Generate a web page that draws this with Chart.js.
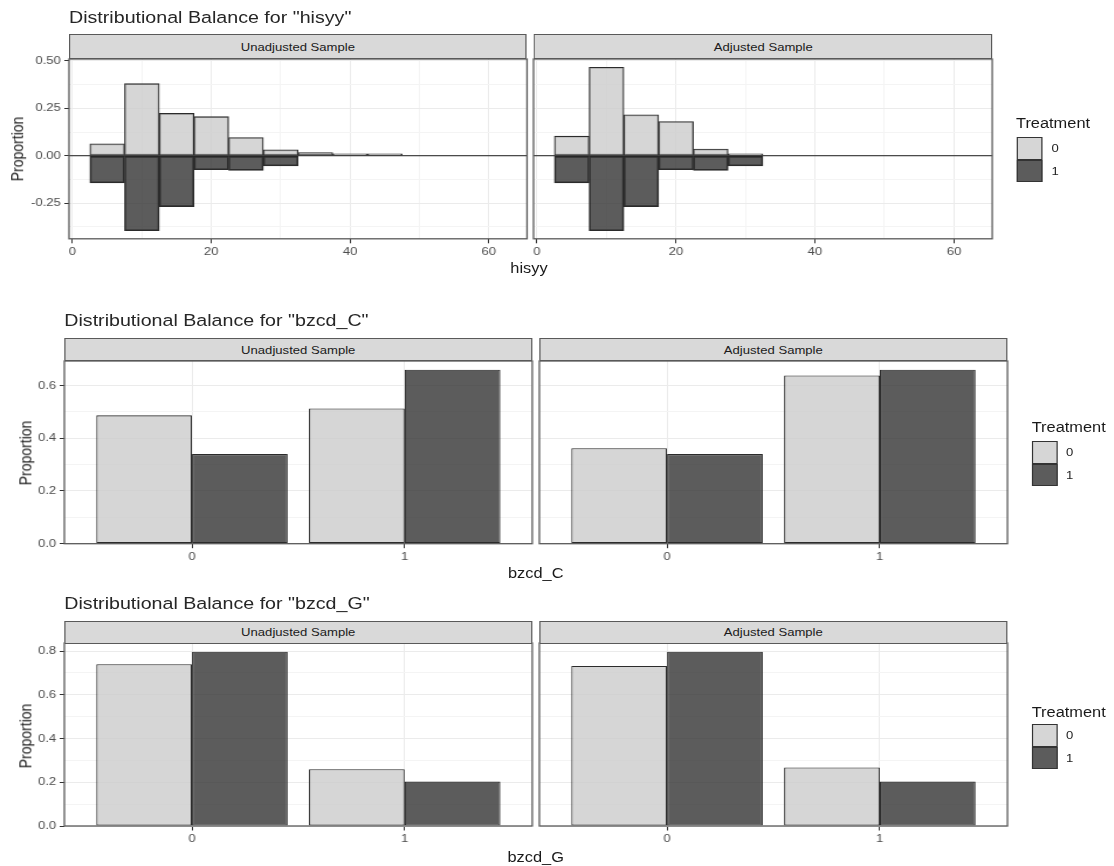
<!DOCTYPE html>
<html>
<head>
<meta charset="utf-8">
<title>Distributional Balance</title>
<script src="https://cdn.jsdelivr.net/npm/chart.js@4.4.1/dist/chart.umd.min.js"></script>
<style>
  html, body { margin: 0; padding: 0; background: #ffffff; }
  body { width: 1114px; height: 866px; overflow: hidden; position: relative; }
  #fig { position: absolute; left: 0; top: 0; height: 866px; transform-origin: 0 0;
         font-family: "Liberation Sans", Arial, Helvetica, sans-serif; }
  #fig canvas { position: absolute; }
  .txt { position: absolute; white-space: nowrap; line-height: 1; }
  .strip { position: absolute; box-sizing: border-box; background: #d9d9d9;
           border: 1.3px solid #595959; display: flex; align-items: center;
           justify-content: center; font-size: 11.2px; color: #1a1a1a; white-space: nowrap; }
  .key { position: absolute; box-sizing: border-box; border: 1.2px solid #333333; }
</style>
</head>
<body>
<div id="fig"></div>
<script>
// ---------------------------------------------------------------------------
// Data
// ---------------------------------------------------------------------------
const treatmentLevels = ['0', '1'];
const facetNames = ['Unadjusted Sample', 'Adjusted Sample'];

// hisyy histogram: bin centres (bin width 5) and proportion per bin
const hisyyBinCentres   = [5, 10, 15, 20, 25, 30, 35, 40, 45];
const hisyyUnadjusted0  = [0.063, 0.380, 0.223, 0.206, 0.096, 0.031, 0.017, 0.005, 0.004];
const hisyyUnadjusted1  = [0.143, 0.395, 0.269, 0.073, 0.077, 0.054, null, null, null];
const hisyyAdjusted0    = [0.103, 0.466, 0.216, 0.180, 0.035, 0.010, null, null, null];
const hisyyAdjusted1    = [0.143, 0.395, 0.269, 0.073, 0.077, 0.054, null, null, null];
const hisyyXTicks       = [0, 20, 40, 60];
const hisyyYTicks       = [-0.25, 0, 0.25, 0.5];

// binary covariates: proportion at each level
const binaryLevels      = [0, 1];
const bzcdCUnadjusted0  = [0.487, 0.513];
const bzcdCUnadjusted1  = [0.340, 0.660];
const bzcdCAdjusted0    = [0.362, 0.638];
const bzcdCAdjusted1    = [0.340, 0.660];
const bzcdCYTicks       = [0, 0.2, 0.4, 0.6];

const bzcdGUnadjusted0  = [0.740, 0.260];
const bzcdGUnadjusted1  = [0.797, 0.203];
const bzcdGAdjusted0    = [0.732, 0.268];
const bzcdGAdjusted1    = [0.797, 0.203];
const bzcdGYTicks       = [0, 0.2, 0.4, 0.6, 0.8];

// ---------------------------------------------------------------------------
// Styling
// ---------------------------------------------------------------------------
const FONT = '"Liberation Sans", Arial, Helvetica, sans-serif';
Chart.defaults.font.family = FONT;
const SX = 1.17;                       // horizontal stretch of the whole figure
const FILLS = ['rgba(204,204,204,0.8)', 'rgba(51,51,51,0.8)'];
const KEY_FILLS = ['#d6d6d6', '#5c5c5c'];
const EDGE = '#2b2b2b';
const TICK_TEXT = '#4d4d4d';

const fig = document.getElementById('fig');
fig.style.width = (1114 / SX) + 'px';
fig.style.transform = 'scaleX(' + SX + ')';
const X = px => px / SX;

// ---------------------------------------------------------------------------
// Figure layout (rows of facet pairs)
// ---------------------------------------------------------------------------
const rows = [
  {
    variable: 'hisyy', kind: 'hist',
    xValues: hisyyBinCentres,
    series: [[hisyyUnadjusted0, hisyyUnadjusted1], [hisyyAdjusted0, hisyyAdjusted1]],
    x: { min: -0.5, max: 65.5, step: 10, major: hisyyXTicks, digits: 0 },
    y: { min: -0.438, max: 0.51, step: 0.125, major: hisyyYTicks, digits: 2 },
    layout: {
      title: [69, 18.3], stripTop: 34.3, plotTop: 58.7, plotBottom: 238.5,
      panels: [[68.9, 526.9], [534, 992.7]],
      xTitle: [529, 267.5], yTitle: [17.5, 148.8],
      legend: { titleX: 1016, titleY: 123, keyX: 1017.3, keyW: 24.7,
                keyYs: [137.3, 159.7, 182], labelX: 1051.5, labelYs: [149, 171.5] }
    }
  },
  {
    variable: 'bzcd_C', kind: 'bar',
    xValues: binaryLevels,
    series: [[bzcdCUnadjusted0, bzcdCUnadjusted1], [bzcdCAdjusted0, bzcdCAdjusted1]],
    x: { min: -0.6, max: 1.6, step: 1, major: binaryLevels, digits: 0 },
    y: { min: 0, max: 0.693, step: 0.1, major: bzcdCYTicks, digits: 1 },
    layout: {
      title: [64.3, 321.3], stripTop: 338, plotTop: 360.7, plotBottom: 543.4,
      panels: [[64.3, 532.2], [539.3, 1007.4]],
      xTitle: [535.7, 572.5], yTitle: [25.8, 452.8],
      legend: { titleX: 1031.7, titleY: 427.3, keyX: 1031.7, keyW: 25.6,
                keyYs: [441, 463.5, 486], labelX: 1066, labelYs: [453.3, 476] }
    }
  },
  {
    variable: 'bzcd_G', kind: 'bar',
    xValues: binaryLevels,
    series: [[bzcdGUnadjusted0, bzcdGUnadjusted1], [bzcdGAdjusted0, bzcdGAdjusted1]],
    x: { min: -0.6, max: 1.6, step: 1, major: binaryLevels, digits: 0 },
    y: { min: 0, max: 0.837, step: 0.1, major: bzcdGYTicks, digits: 1 },
    layout: {
      title: [64.3, 604], stripTop: 620.5, plotTop: 643.3, plotBottom: 826.3,
      panels: [[64.3, 532.2], [539.3, 1007.4]],
      xTitle: [535.7, 857.3], yTitle: [25.8, 735.6],
      legend: { titleX: 1031.7, titleY: 711.7, keyX: 1031.7, keyW: 25.6,
                keyYs: [724.3, 746.7, 769], labelX: 1066, labelYs: [735.7, 759] }
    }
  }
];

// ---------------------------------------------------------------------------
// Helpers
// ---------------------------------------------------------------------------
function addText(str, x, y, size, color, mode) {
  const d = document.createElement('div');
  d.className = 'txt';
  d.textContent = str;
  d.style.left = X(x) + 'px';
  d.style.top = y + 'px';
  d.style.fontSize = size + 'px';
  d.style.color = color;
  if (mode === 'center') d.style.transform = 'translate(-50%, -50%)';
  else if (mode === 'vertical') d.style.transform = 'translate(-50%, -50%) rotate(-90deg)';
  else d.style.transform = 'translateY(-50%)';
  fig.appendChild(d);
  return d;
}

const isMajor = (list, v) => list.some(m => Math.abs(m - v) < 1e-9);

// Panel border and (for the mirrored histogram) the zero reference line
const panelDecor = {
  id: 'panelDecor',
  afterDatasetsDraw(chart, args, opts) {
    const { ctx, chartArea: a, scales } = chart;
    ctx.save();
    if (opts.zeroLine) {
      const y0 = scales.y.getPixelForValue(0);
      ctx.strokeStyle = '#1e1e1e';
      ctx.lineWidth = 1;
      ctx.beginPath();
      ctx.moveTo(a.left, y0);
      ctx.lineTo(a.right, y0);
      ctx.stroke();
    }
    ctx.strokeStyle = '#5a5a5a';
    ctx.lineWidth = 1.3;
    ctx.strokeRect(a.left, a.top, a.right - a.left, a.bottom - a.top);
    ctx.restore();
  }
};

function axisOptions(spec, axis, showLabels, fixedSize) {
  const o = {
    type: 'linear',
    min: spec.min,
    max: spec.max,
    offset: false,
    beginAtZero: false,
    border: { display: false },
    grid: {
      offset: false,
      drawTicks: showLabels,
      tickLength: axis === 'x' ? 4.5 : 4,
      tickWidth: 1,
      tickColor: ctx => (ctx.tick && isMajor(spec.major, ctx.tick.value)) ? '#333333' : 'rgba(0,0,0,0)',
      color: ctx => (ctx.tick && isMajor(spec.major, ctx.tick.value)) ? '#ebebeb' : '#f4f4f4',
      lineWidth: 1
    },
    ticks: {
      display: showLabels,
      stepSize: spec.step,
      includeBounds: false,
      autoSkip: false,
      maxRotation: 0,
      minRotation: 0,
      padding: axis === 'x' ? 2 : 3,
      color: TICK_TEXT,
      font: { family: FONT, size: 11.2 },
      callback: v => isMajor(spec.major, v) ? Number(v).toFixed(spec.digits) : ''
    },
    // fixed axis size; labels may overhang the plotting area freely
    afterFit: s => {
      if (axis === 'x') s.height = fixedSize; else s.width = fixedSize;
      s.paddingTop = 0; s.paddingBottom = 0; s.paddingLeft = 0; s.paddingRight = 0;
    }
  };
  return o;
}

function buildDatasets(row, pi) {
  return [0, 1].map(g => {
    const values = row.series[pi][g];
    const ds = {
      label: treatmentLevels[g],
      data: row.xValues.map((xv, i) => {
        const v = values[i];
        // treated group is mirrored below zero in the histogram
        const y = (v == null) ? null : (row.kind === 'hist' && g === 1 ? -v : v);
        return { x: xv, y: y };
      }),
      backgroundColor: FILLS[g],
      borderColor: EDGE,
      borderWidth: 1.1,
      borderSkipped: false,
      barPercentage: 1,
      categoryPercentage: row.kind === 'hist' ? 1 : 0.9
    };
    if (row.kind === 'hist') {
      ds.grouped = false;
      ds.minBarLength = 2;   // keep near-empty bins visible as an outline
    }
    return ds;
  });
}

function buildFacet(row, pi) {
  const L = row.layout;
  const [sx0, sx1] = L.panels[pi];
  const left = X(sx0), right = X(sx1);
  const top = L.plotTop, bottom = L.plotBottom;
  const w = right - left, h = bottom - top;
  const first = pi === 0;
  const yAxisW = first ? 40 : 0;
  const padL = first ? 0 : 6, padT = 3;
  const cw = Math.ceil(w + yAxisW + padL + 5);
  const ch = Math.ceil(h + padT + 24);
  const padR = cw - w - yAxisW - padL;
  const xAxisH = ch - h - padT;

  const canvas = document.createElement('canvas');
  canvas.width = cw;
  canvas.height = ch;
  canvas.style.left = (left - yAxisW - padL) + 'px';
  canvas.style.top = (top - padT) + 'px';
  fig.appendChild(canvas);

  const chart = new Chart(canvas, {
    type: 'bar',
    data: { datasets: buildDatasets(row, pi) },
    options: {
      responsive: false,
      maintainAspectRatio: false,
      animation: false,
      events: [],
      layout: { padding: { left: padL, top: padT, right: padR, bottom: 0 } },
      scales: {
        x: axisOptions(row.x, 'x', true, xAxisH),
        y: axisOptions(row.y, 'y', first, yAxisW)
      },
      plugins: {
        legend: { display: false },
        tooltip: { enabled: false },
        title: { display: false },
        panelDecor: { zeroLine: row.kind === 'hist' }
      }
    },
    plugins: [panelDecor]
  });

  // align the plotting area with its strip
  const a = chart.chartArea;
  canvas.style.left = (left - a.left) + 'px';
  canvas.style.top = (top - a.top) + 'px';

  // facet strip
  const s = document.createElement('div');
  s.className = 'strip';
  s.style.left = left + 'px';
  s.style.width = w + 'px';
  s.style.top = L.stripTop + 'px';
  s.style.height = (L.plotTop - L.stripTop + 0.6) + 'px';
  s.textContent = facetNames[pi];
  fig.appendChild(s);
}

function buildLegend(L) {
  const g = L.legend;
  addText('Treatment', g.titleX, g.titleY, 14, '#1a1a1a');
  [0, 1].forEach(i => {
    const k = document.createElement('div');
    k.className = 'key';
    k.style.left = X(g.keyX) + 'px';
    k.style.width = X(g.keyW) + 'px';
    k.style.top = g.keyYs[i] + 'px';
    k.style.height = (g.keyYs[i + 1] - g.keyYs[i]) + 'px';
    k.style.background = KEY_FILLS[i];
    fig.appendChild(k);
    addText(treatmentLevels[i], g.labelX, g.labelYs[i], 11.2, '#222222');
  });
}

// ---------------------------------------------------------------------------
// Draw
// ---------------------------------------------------------------------------
rows.forEach(row => {
  const L = row.layout;
  addText('Distributional Balance for "' + row.variable + '"', L.title[0], L.title[1], 16.8, '#262626');
  buildFacet(row, 0);
  buildFacet(row, 1);
  addText(row.variable, L.xTitle[0], L.xTitle[1], 14, '#1a1a1a', 'center');
  addText('Proportion', L.yTitle[0], L.yTitle[1], 14, '#1a1a1a', 'vertical');
  buildLegend(L);
});
</script>
</body>
</html>
